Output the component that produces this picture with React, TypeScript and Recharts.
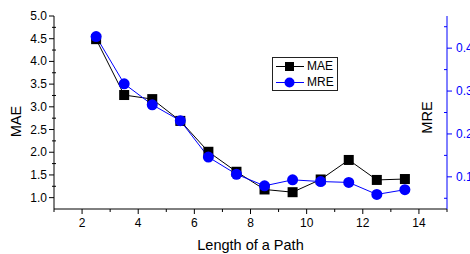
import { LineChart, Line, XAxis, YAxis, Legend } from 'recharts'

const pathLength = [2.5, 3.5, 4.5, 5.5, 6.5, 7.5, 8.5, 9.5, 10.5, 11.5, 12.5, 13.5]
const maeValues = [4.49, 3.26, 3.17, 2.69, 2.01, 1.57, 1.18, 1.12, 1.4, 1.83, 1.39, 1.41]
const mreValues = [0.427, 0.317, 0.268, 0.231, 0.146, 0.106, 0.079, 0.093, 0.089, 0.087, 0.059, 0.07]

const xTicks = [1, 2, 3, 4, 5, 6, 7, 8, 9, 10, 11, 12, 13, 14, 15]
const maeTicks = [1, 1.25, 1.5, 1.75, 2, 2.25, 2.5, 2.75, 3, 3.25, 3.5, 3.75, 4, 4.25, 4.5, 4.75, 5]
const mreTicks = [0.05, 0.1, 0.15, 0.2, 0.25, 0.3, 0.35, 0.4, 0.45]
const mreLabels: Record<string, string> = { '0.1': '0.1', '0.2': '0.2', '0.3': '0.3', '0.4': '0.4' }

const data = pathLength.map((x, i) => ({ x, mae: maeValues[i], mre: mreValues[i] }))

const FONT = 'Arial, "Liberation Sans", sans-serif'
const BLUE = '#0000ff'

const Square = (p: any) => (
  <rect key={p.index} x={p.cx - 5} y={p.cy - 5} width={10} height={10} fill="#000" />
)
const Dot = (p: any) => <circle key={p.index} cx={p.cx} cy={p.cy} r={5.5} fill={BLUE} />

function BottomTick({ x, y, payload }: any) {
  const major = payload.value % 2 === 0
  return (
    <g>
      <line x1={x} x2={x} y1={y} y2={y + (major ? 5 : 3)} stroke="#000" />
      {major && (
        <text x={x} y={y + 18} textAnchor="middle" fontSize={12} fontFamily={FONT} fill="#000">
          {payload.value}
        </text>
      )}
    </g>
  )
}

function TopTick({ x, y, payload }: any) {
  const major = payload.value % 2 === 0
  return <line x1={x} x2={x} y1={y} y2={y + (major ? 5 : 3)} stroke="#000" />
}

function LeftTick({ x, y, payload }: any) {
  const major = Math.abs(payload.value * 2 - Math.round(payload.value * 2)) < 1e-6
  return (
    <g>
      {major ? (
        <line x1={x} x2={x - 5} y1={y} y2={y} stroke="#000" />
      ) : (
        <line x1={x - 2} x2={x + 2} y1={y} y2={y} stroke="#000" />
      )}
      {major && (
        <text x={x - 7} y={y + 4} textAnchor="end" fontSize={12} fontFamily={FONT} fill="#000">
          {payload.value.toFixed(1)}
        </text>
      )}
    </g>
  )
}

function RightTick({ x, y, payload }: any) {
  const label = mreLabels[String(payload.value)]
  return (
    <g>
      {label ? (
        <line x1={x} x2={x + 5} y1={y} y2={y} stroke={BLUE} />
      ) : (
        <line x1={x} x2={x - 3} y1={y} y2={y} stroke={BLUE} />
      )}
      {label && (
        <text x={x + 9} y={y + 4} textAnchor="start" fontSize={12} fontFamily={FONT} fill={BLUE}>
          {label}
        </text>
      )}
    </g>
  )
}

const axisTitle = (text: string, dx: number, dy: number) => (props: any) => {
  const vb = props.viewBox
  const cx = vb.x + dx
  const cy = vb.y + vb.height / 2 + dy
  return (
    <text
      x={cx}
      y={cy}
      transform={`rotate(-90, ${cx}, ${cy})`}
      textAnchor="middle"
      dominantBaseline="central"
      fontSize={14.5}
      fontFamily={FONT}
      fill="#000"
    >
      {text}
    </text>
  )
}

function LegendBox({ payload }: any) {
  return (
    <div
      style={{
        border: '1px solid #222',
        background: '#fff',
        padding: '0px 3px 0px 2px',
        fontFamily: FONT,
        fontSize: 12,
        lineHeight: '15px',
      }}
    >
      {(payload || []).map((item: any) => (
        <div key={item.value} style={{ display: 'flex', alignItems: 'center', height: 16 }}>
          <svg width={30} height={15}>
            <line x1={1} x2={29} y1={7.5} y2={7.5} stroke={item.color} />
            {item.dataKey === 'mae' ? (
              <rect x={10} y={3} width={9} height={9} fill="#000" />
            ) : (
              <circle cx={14.5} cy={7.5} r={5} fill={BLUE} />
            )}
          </svg>
          <span style={{ marginLeft: 2, color: '#000' }}>{item.value}</span>
        </div>
      ))}
    </div>
  )
}

export default function App() {
  return (
    <div style={{ position: 'absolute', left: 0, top: 0, width: 470, height: 254, background: '#fff' }}>
      <LineChart width={470} height={254} data={data} margin={{ top: 16, right: 0, bottom: 0, left: 0 }}>
        <XAxis
          dataKey="x"
          type="number"
          domain={[1, 15]}
          ticks={xTicks}
          interval={0}
          height={45}
          tickSize={0}
          tickMargin={0}
          tickLine={false}
          axisLine={{ stroke: '#000' }}
          tick={<BottomTick />}
          label={{
            value: 'Length of a Path',
            position: 'insideBottom',
            offset: 4,
            style: { fontSize: 14.5, fontFamily: FONT, fill: '#000' },
          }}
        />
        <XAxis
          xAxisId="top"
          dataKey="x"
          type="number"
          orientation="top"
          domain={[1, 15]}
          ticks={xTicks}
          interval={0}
          height={0}
          tickSize={0}
          tickMargin={0}
          tickLine={false}
          axisLine={{ stroke: '#000' }}
          tick={<TopTick />}
        />
        <YAxis
          yAxisId="left"
          domain={[0.75, 5]}
          ticks={maeTicks}
          interval={0}
          width={54}
          tickSize={0}
          tickMargin={0}
          tickLine={false}
          axisLine={{ stroke: '#000' }}
          tick={<LeftTick />}
          allowDataOverflow
          label={{ content: axisTitle('MAE', 16, 9) }}
        />
        <YAxis
          yAxisId="right"
          orientation="right"
          domain={[0.025, 0.475]}
          ticks={mreTicks}
          interval={0}
          width={23}
          tickSize={0}
          tickMargin={0}
          tickLine={false}
          axisLine={{ stroke: BLUE }}
          tick={<RightTick />}
          allowDataOverflow
          label={{ content: axisTitle('MRE', -20, 5) }}
        />
        <Legend
          layout="horizontal"
          verticalAlign="middle"
          align="center"
          content={<LegendBox />}
          wrapperStyle={{ left: 272, top: 57, width: 'auto', height: 'auto' }}
        />
        <Line
          yAxisId="left"
          dataKey="mae"
          name="MAE"
          stroke="#000"
          strokeWidth={1}
          dot={Square}
          activeDot={false}
          isAnimationActive={false}
        />
        <Line
          yAxisId="right"
          dataKey="mre"
          name="MRE"
          stroke={BLUE}
          strokeWidth={1}
          dot={Dot}
          activeDot={false}
          isAnimationActive={false}
        />
      </LineChart>
    </div>
  )
}
